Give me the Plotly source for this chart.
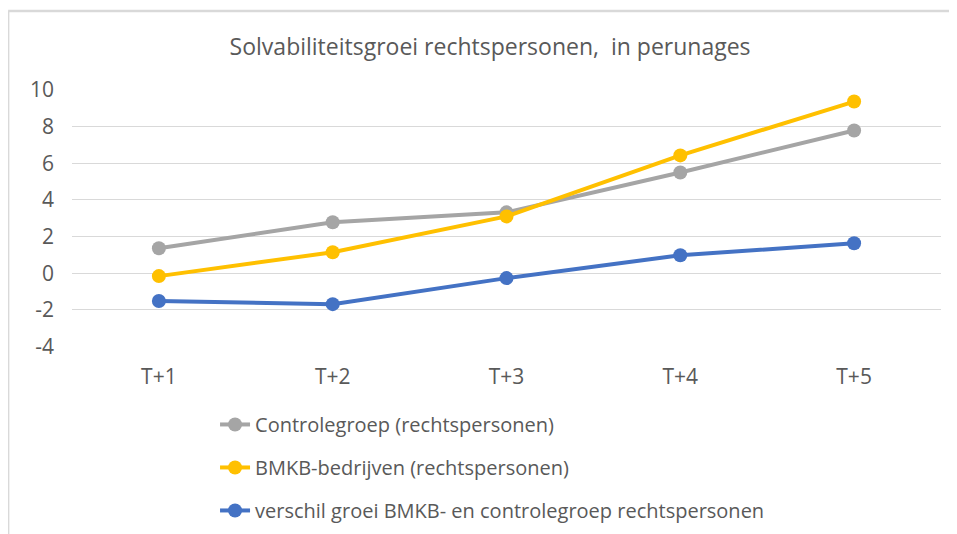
import plotly.graph_objects as go

# Data
periods = ["T+1", "T+2", "T+3", "T+4", "T+5"]
controle = [1.36, 2.78, 3.32, 5.5, 7.79]
bmkb = [-0.16, 1.14, 3.1, 6.43, 9.37]
verschil = [-1.52, -1.69, -0.27, 0.98, 1.63]

series_names = [
    "Controlegroep (rechtspersonen)",
    "BMKB-bedrijven (rechtspersonen)",
    "verschil groei BMKB- en controlegroep rechtspersonen",
]
series_values = [controle, bmkb, verschil]
colors = ["#A5A5A5", "#FFC000", "#4472C4"]

y_ticks = [-4, -2, 0, 2, 4, 6, 8, 10]
y_labels = ["-4", "-2", "0", "2", "4", "6", "8", "10"]

fig = go.Figure()
for i, (name, vals, col) in enumerate(zip(series_names, series_values, colors)):
    fig.add_trace(go.Scatter(
        x=periods, y=vals, name=name, mode="lines+markers",
        line=dict(color=col, width=4),
        marker=dict(color=col, size=14),
        legendgroup=str(i),
    ))

# page has an 8px body margin; figure is made a bit taller than the window
# so the legend never pushes the plot area up
fig.update_layout(
    width=949, height=560,
    margin=dict(l=64, r=16, t=82, b=221),
    paper_bgcolor="white", plot_bgcolor="white",
    font=dict(family="Open Sans, sans-serif", color="#595959", size=20),
    title=dict(
        text="Solvabiliteitsgroei rechtspersonen,  in perunages",
        x=0.508, xanchor="center", y=0.9304, yanchor="middle",
        font=dict(family="Open Sans, sans-serif", size=23, color="#595959"),
    ),
    legend=dict(
        orientation="v", x=0.1646, xanchor="left", y=-0.2255, yanchor="top",
        font=dict(size=20, color="#595959"),
        tracegroupgap=14, traceorder="grouped",
    ),
    shapes=[
        # chart frame (top and left edges visible)
        dict(type="line", xref="paper", yref="paper",
             x0=-0.0735, x1=1.02, y0=1.307, y1=1.307,
             line=dict(color="#D9D9D9", width=2.5)),
        dict(type="line", xref="paper", yref="paper",
             x0=-0.0735, x1=-0.0735, y0=-0.85, y1=1.307,
             line=dict(color="#D9D9D9", width=2.5)),
    ],
)

fig.update_xaxes(
    range=[-0.5, 4.5],
    showgrid=False, showline=False, zeroline=False,
    ticklabelstandoff=15, tickfont=dict(size=21),
)
# lower bound nudged so the -4 gridline is still drawn
fig.update_yaxes(
    range=[-4.03, 10], tickvals=y_ticks, ticktext=y_labels,
    showgrid=True, gridcolor="#D9D9D9",
    gridwidth=1, zeroline=False, showline=False,
    ticklabelstandoff=17, tickfont=dict(size=21),
)

fig.write_html("out.html")
